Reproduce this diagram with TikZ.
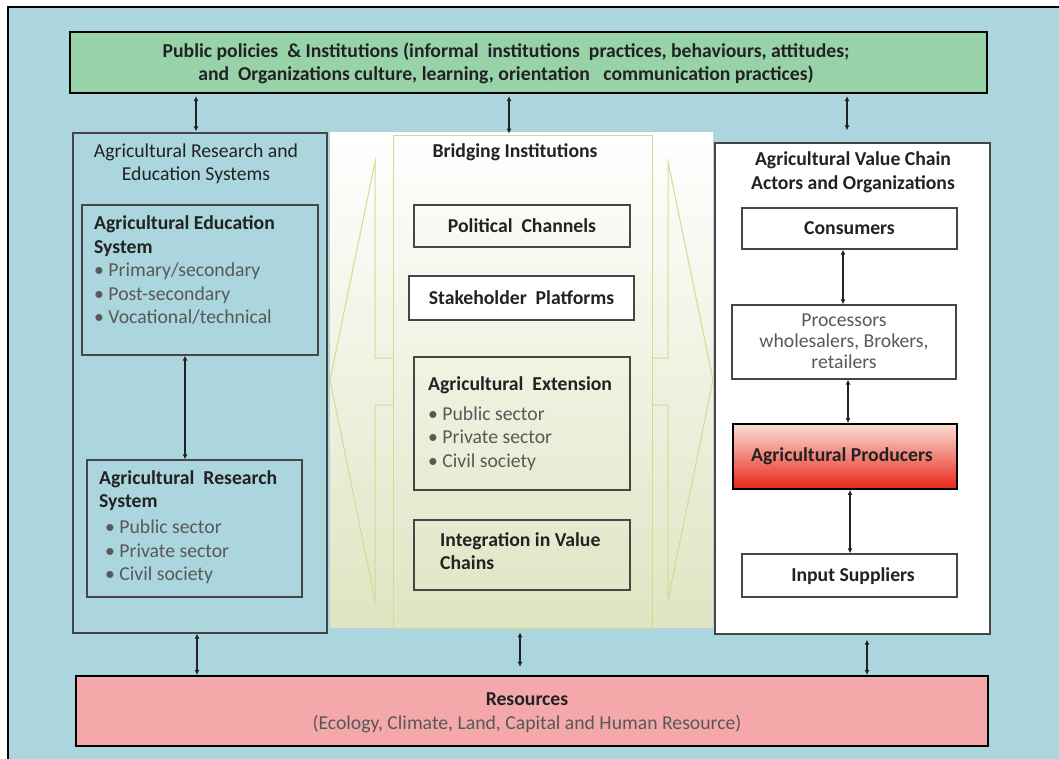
\documentclass[tikz,border=0pt]{standalone}
\usepackage{fontspec}
\setmainfont{Carlito}
\usetikzlibrary{arrows.meta}

\definecolor{bgblue}{RGB}{172,214,221}
\definecolor{polgreen}{RGB}{152,210,168}
\definecolor{respink}{RGB}{245,168,170}
\definecolor{olive}{RGB}{224,228,194}
\definecolor{bridgeline}{RGB}{208,220,146}
\definecolor{prodtop}{RGB}{252,222,212}
\definecolor{prodbot}{RGB}{232,38,26}
\definecolor{boxgray}{RGB}{70,70,70}
\definecolor{inkdark}{RGB}{34,34,34}
\definecolor{inkgray}{RGB}{88,88,88}

\newcommand{\bodyfont}{\fontsize{19.7}{23.5}\selectfont}
\tikzset{
  box/.style={draw=boxgray, line width=1.3pt, inner sep=0pt},
  heavybox/.style={draw=black, line width=2.2pt, inner sep=0pt},
  txt/.style={inner sep=0pt, text=inkdark, font=\bodyfont},
  boldtxt/.style={txt, font=\bodyfont\bfseries},
  biarrow/.style={{Latex[length=5pt,width=5pt]}-{Latex[length=5pt,width=5pt]}, draw=inkdark, line width=1.3pt},
  arrowoutline/.style={draw=bridgeline, line width=1pt}
}

\begin{document}
\begin{tikzpicture}[x=1pt,y=-1pt]
\useasboundingbox (0,0) rectangle (1059,759);
\clip (0,0) rectangle (1059,759);
\fill[white] (0,0) rectangle (1059,759);
% framed blue background
\draw[fill=bgblue, line width=1.5pt] (8,7) rectangle (1075,775);

% policies and institutions band
\node[heavybox, fill=polgreen, minimum width=917pt, minimum height=61pt] (policy) at (528.5,62.5) {};
\node[boldtxt, align=center, font=\fontsize{19.7}{23}\selectfont\bfseries] (policytxt) at (506,63.5)
  {Public policies~ \& Institutions (informal~ institutions~ practices, behaviours, attitudes;\\
   and~ Organizations culture, learning, orientation~~ communication practices)};

% resources band
\node[heavybox, fill=respink, minimum width=912pt, minimum height=70pt] (resources) at (532,711) {};
\node[txt, align=center] (restxt) at (527,713)
  {\textbf{Resources}\\ \textcolor{inkgray}{(Ecology, Climate, Land, Capital and Human Resource)}};

% bridging institutions: shaded field and double arrow outline
\shade[top color=white, bottom color=olive] (330,133) rectangle (713,627);
\draw[arrowoutline] (393,358) -- (375,358) -- (375,162) -- (330,380) -- (375,600) -- (375,405) -- (393,405);
\draw[arrowoutline] (652,358) -- (668,358) -- (668,162) -- (713,380) -- (668,600) -- (668,405) -- (652,405);
\node[draw=bridgeline, line width=0.8pt, inner sep=0pt, minimum width=259pt, minimum height=493pt] (bridge) at (522.5,381.5) {};
\node[boldtxt] (bridgetitle) at (515,152) {Bridging Institutions};

\node[box, minimum width=216pt, minimum height=42pt] (political) at (522,226) {};
\node[boldtxt] at (political) {Political~ Channels};
\node[box, fill=white, minimum width=225pt, minimum height=44pt] (stake) at (521.5,298) {};
\node[boldtxt] at (stake) {Stakeholder~ Platforms};
\node[box, minimum width=216pt, minimum height=133pt] (extension) at (522,423.5) {};
\node[txt, align=left, anchor=north west] (exttxt) at (428,376.5)
  {\textbf{Agricultural~ Extension}\\[6pt]
   \textcolor{inkgray}{• Public sector}\\
   \textcolor{inkgray}{• Private sector}\\
   \textcolor{inkgray}{• Civil society}};
\node[box, minimum width=216pt, minimum height=70pt] (integration) at (522,555) {};
\node[boldtxt, align=left, anchor=north west] (integtxt) at (440,532)
  {Integration in Value\\ Chains};

% research and education systems
\node[box, fill=bgblue, minimum width=254pt, minimum height=500pt] (ares) at (200,383) {};
\node[txt, align=center] (arestxt) at (196,163.5) {Agricultural Research and\\ Education Systems};
\node[box, minimum width=236pt, minimum height=150pt] (edu) at (200,280) {};
\node[txt, align=left, anchor=north west] (edutxt) at (94,215.5)
  {\textbf{Agricultural Education}\\
   \textbf{System}\\
   \textcolor{inkgray}{• Primary/secondary}\\
   \textcolor{inkgray}{• Post-secondary}\\
   \textcolor{inkgray}{• Vocational/technical}};
\node[box, minimum width=215pt, minimum height=137pt] (research) at (194.5,528.5) {};
\node[txt, align=left, anchor=north west] (restitle) at (99,470)
  {\textbf{Agricultural~ Research}\\ \textbf{System}};
\node[txt, align=left, anchor=north west] (resbul) at (105,520)
  {\textcolor{inkgray}{• Public sector}\\
   \textcolor{inkgray}{• Private sector}\\
   \textcolor{inkgray}{• Civil society}};

% value chain actors
\node[box, fill=white, minimum width=275pt, minimum height=491pt] (avc) at (852.5,388.5) {};
\node[boldtxt, align=center, font=\fontsize{19.7}{24}\selectfont\bfseries] (avctxt) at (853,172) {Agricultural Value Chain\\ Actors and Organizations};
\node[box, minimum width=215pt, minimum height=41pt] (consumers) at (849.5,228.5) {};
\node[boldtxt] at (consumers) {Consumers};
\node[box, minimum width=224pt, minimum height=74pt] (processors) at (844,342) {};
\node[txt, align=center, text=inkgray, font=\fontsize{19.7}{21}\selectfont] at (844,341) {Processors\\ wholesalers, Brokers,\\ retailers};
\node[heavybox, line width=1.8pt, top color=prodtop, bottom color=prodbot, minimum width=224pt, minimum height=65pt] (producers) at (845,456.5) {};
\node[boldtxt, anchor=west] at (751,456.5) {Agricultural Producers};
\node[box, minimum width=215pt, minimum height=43pt] (inputs) at (849.5,575.5) {};
\node[boldtxt] at (853,576) {Input Suppliers};

% connectors
\coordinate (aresTop) at ([xshift=-4pt]ares.north);
\coordinate (bridgeTop) at ([xshift=-13.5pt]bridge.north);
\coordinate (avcTop) at ([xshift=-5.5pt]avc.north);
\draw[biarrow, shorten <=2pt, shorten >=1pt] (aresTop |- policy.south) -- (aresTop);
\draw[biarrow, shorten <=2pt, shorten >=1pt] (bridgeTop |- policy.south) -- (bridgeTop);
\draw[biarrow, shorten <=2pt, shorten >=12pt] (avcTop |- policy.south) -- (avcTop);

\coordinate (aresBot) at ([xshift=-3pt]ares.south);
\coordinate (bridgeBot) at ([xshift=-2.5pt]bridge.south);
\coordinate (avcBot) at ([xshift=14.5pt]avc.south);
\draw[biarrow] (aresBot) -- (aresBot |- resources.north);
\draw[biarrow, shorten <=4pt, shorten >=8pt] (bridgeBot) -- (bridgeBot |- resources.north);
\draw[biarrow, shorten <=5pt] (avcBot) -- (avcBot |- resources.north);

\coordinate (eduBot) at ([xshift=-15pt]edu.south);
\draw[biarrow] (eduBot) -- (eduBot |- research.north);

\coordinate (consBot) at ([xshift=-6.5pt]consumers.south);
\draw[biarrow] (consBot) -- (consBot |- processors.north);
\coordinate (procBot) at ([xshift=4pt]processors.south);
\draw[biarrow] (procBot) -- (procBot |- producers.north);
\coordinate (prodBot) at ([xshift=5pt]producers.south);
\draw[biarrow] (prodBot) -- (prodBot |- inputs.north);
\end{tikzpicture}
\end{document}
